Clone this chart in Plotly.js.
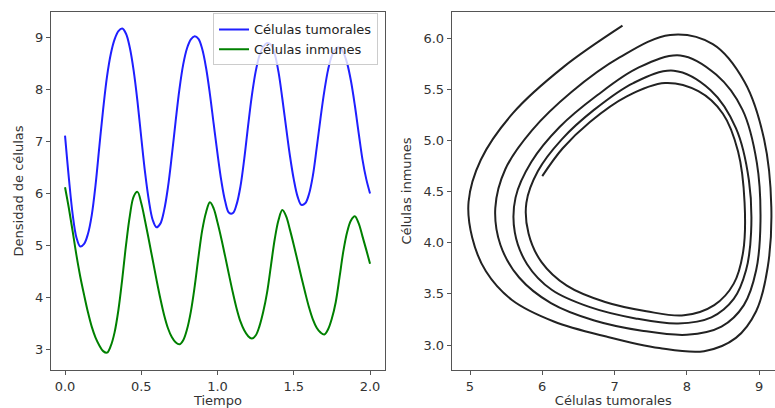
<!DOCTYPE html>
<html>
<head>
<meta charset="utf-8">
<script src="https://cdn.plot.ly/plotly-3.0.1.min.js"></script>
<style>html,body{margin:0;padding:0;background:#fff;}#chart{width:775px;height:408px;}</style>
</head>
<body>
<div id="chart"></div>
<script>
// Time samples (Tiempo)
const tiempo = [0.000,0.025,0.050,0.075,0.100,0.125,0.150,0.175,0.200,0.225,
  0.250,0.275,0.300,0.325,0.350,0.375,0.400,0.425,0.450,0.475,
  0.500,0.525,0.550,0.575,0.600,0.625,0.650,0.675,0.700,0.725,
  0.750,0.775,0.800,0.825,0.850,0.875,0.900,0.925,0.950,0.975,
  1.000,1.025,1.050,1.075,1.100,1.125,1.150,1.175,1.200,1.225,
  1.250,1.275,1.300,1.325,1.350,1.375,1.400,1.425,1.450,1.475,
  1.500,1.525,1.550,1.575,1.600,1.625,1.650,1.675,1.700,1.725,
  1.750,1.775,1.800,1.825,1.850,1.875,1.900,1.925,1.950,1.975,2.000];

// Células tumorales
const tumorales = [7.11,6.30,5.60,5.15,4.98,5.03,5.22,5.58,6.16,6.90,
  7.62,8.24,8.68,8.96,9.12,9.17,9.07,8.80,8.36,7.77,
  7.07,6.40,5.86,5.49,5.35,5.42,5.68,6.12,6.72,7.38,
  8.00,8.48,8.79,8.96,9.02,8.97,8.77,8.41,7.91,7.33,
  6.76,6.24,5.85,5.63,5.62,5.79,6.13,6.66,7.29,7.88,
  8.34,8.65,8.82,8.89,8.86,8.68,8.33,7.82,7.26,6.72,
  6.27,5.94,5.78,5.81,5.99,6.34,6.87,7.44,7.96,8.38,
  8.65,8.78,8.80,8.71,8.50,8.16,7.70,7.17,6.66,6.28,6.00];

// Células inmunes
const inmunes = [6.12,5.72,5.27,4.81,4.40,4.05,3.72,3.44,3.23,3.08,
  2.97,2.94,3.07,3.33,3.76,4.35,5.01,5.57,5.94,6.03,
  5.81,5.47,5.10,4.72,4.34,3.98,3.66,3.41,3.24,3.14,
  3.10,3.18,3.39,3.73,4.21,4.78,5.30,5.64,5.83,5.71,
  5.44,5.13,4.79,4.44,4.10,3.79,3.54,3.37,3.26,3.21,
  3.27,3.45,3.73,4.10,4.61,5.12,5.49,5.68,5.56,5.30,
  5.01,4.70,4.39,4.09,3.81,3.58,3.42,3.33,3.29,3.39,
  3.60,3.91,4.39,4.89,5.26,5.48,5.56,5.43,5.18,4.92,4.65];

// Tick labels
const ticksTiempo = [0, 0.5, 1.0, 1.5, 2.0];
const ticksDensidad = [3, 4, 5, 6, 7, 8, 9];
const ticksTumorales = [5, 6, 7, 8, 9];
const ticksInmunes = [3.0, 3.5, 4.0, 4.5, 5.0, 5.5, 6.0];

const fontBase = {family: 'DejaVu Sans, sans-serif', size: 13, color: '#333'};

const traces = [
  {x: tiempo, y: tumorales, type: 'scatter', mode: 'lines', name: 'Células tumorales',
   line: {color: '#1f1fff', width: 2, shape: 'spline', smoothing: 1}, xaxis: 'x', yaxis: 'y'},
  {x: tiempo, y: inmunes, type: 'scatter', mode: 'lines', name: 'Células inmunes',
   line: {color: '#008000', width: 2, shape: 'spline', smoothing: 1}, xaxis: 'x', yaxis: 'y'},
  {x: tumorales, y: inmunes, type: 'scatter', mode: 'lines', name: 'fase', showlegend: false,
   line: {color: '#222', width: 2, shape: 'spline', smoothing: 1}, xaxis: 'x2', yaxis: 'y2'}
];

const axisCommon = {
  showgrid: false, zeroline: false, showline: true, linecolor: '#555', linewidth: 1,
  ticks: 'outside', ticklen: 4, tickcolor: '#555', tickwidth: 1,
  tickfont: fontBase, automargin: false
};

const layout = {
  width: 775, height: 408,
  margin: {l: 51, r: 0, t: 12, b: 38, pad: 0},
  paper_bgcolor: '#fff', plot_bgcolor: '#fff',
  font: fontBase,
  showlegend: true,
  legend: {x: 0.4517, xanchor: 'right', y: 0.996, yanchor: 'top',
    bgcolor: 'rgba(255,255,255,0.8)', bordercolor: '#cccccc', borderwidth: 1,
    font: {family: 'DejaVu Sans, sans-serif', size: 13, color: '#222'}, tracegroupgap: 0},
  xaxis: Object.assign({}, axisCommon, {domain: [0, 0.4613], range: [-0.092, 2.098],
    tickvals: ticksTiempo, tickformat: '.1f', mirror: true, anchor: 'y',
    title: {text: 'Tiempo', font: fontBase, standoff: 9}}),
  yaxis: Object.assign({}, axisCommon, {domain: [0, 1], range: [2.607, 9.487],
    tickvals: ticksDensidad, mirror: true, anchor: 'x',
    title: {text: 'Densidad de células', font: fontBase, standoff: 8}}),
  xaxis2: Object.assign({}, axisCommon, {domain: [0.5535, 1], range: [4.747, 9.221],
    tickvals: ticksTumorales, mirror: true, anchor: 'y2',
    title: {text: 'Células tumorales', font: fontBase, standoff: 9}}),
  yaxis2: Object.assign({}, axisCommon, {domain: [0, 1], range: [2.756, 6.254],
    tickvals: ticksInmunes, tickformat: '.1f', mirror: false, anchor: 'x2',
    title: {text: 'Células inmunes', font: fontBase, standoff: 8}})
};

Plotly.newPlot('chart', traces, layout, {displayModeBar: false, staticPlot: true});
</script>
</body>
</html>
